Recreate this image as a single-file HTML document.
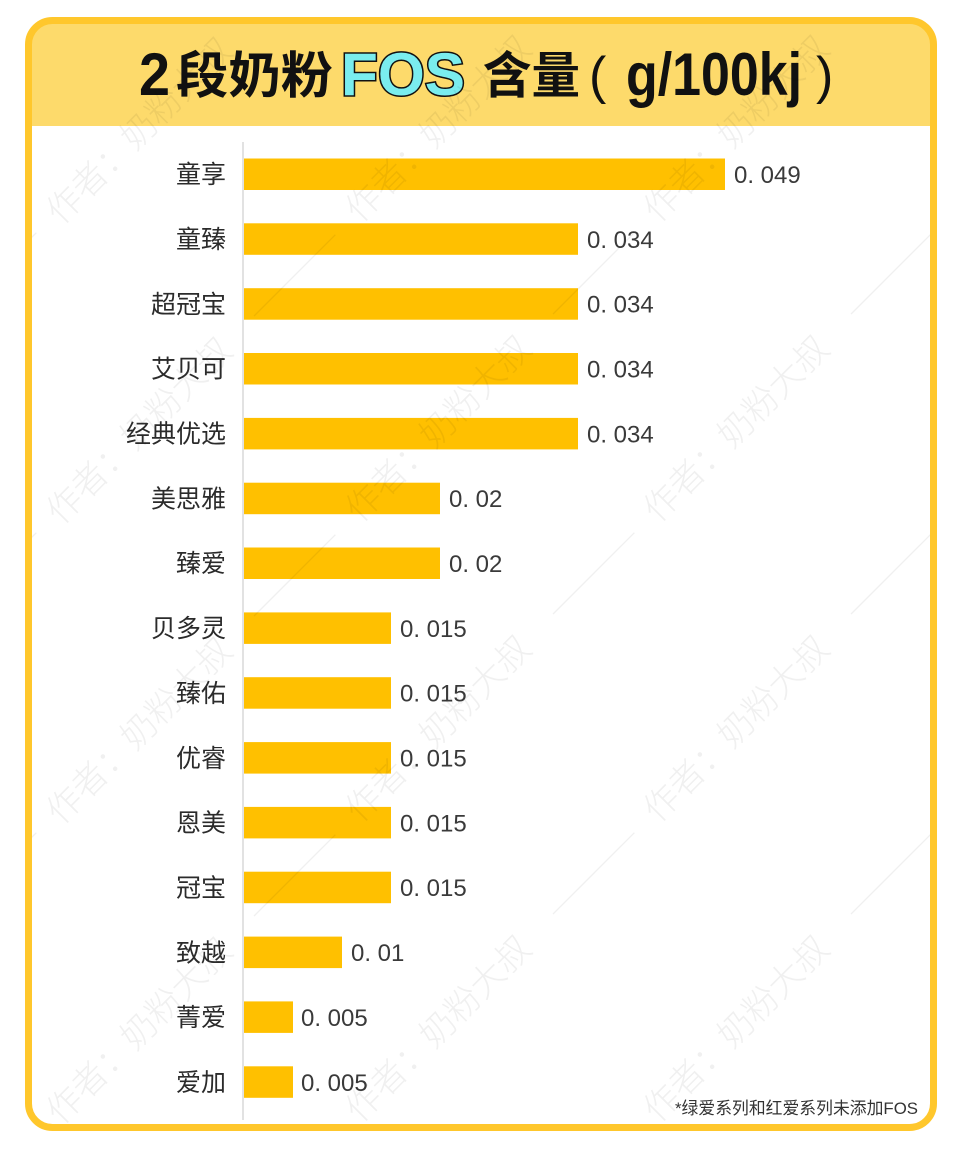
<!DOCTYPE html>
<html>
<head>
<meta charset="utf-8">
<style>
html,body{margin:0;padding:0;background:#fff;}
svg{display:block;}
.cat{font-family:"Liberation Sans","Noto Sans CJK SC",sans-serif;font-size:25px;fill:#2b2b2b;text-anchor:end;}
.val{font-family:"Liberation Sans","Noto Sans CJK SC",sans-serif;font-size:24px;fill:#3a3a3a;}
.wm text{font-family:"Noto Sans CJK SC","WenQuanYi Zen Hei",sans-serif;font-size:35px;font-weight:300;fill:#000;}
.wm line{stroke:#000;stroke-width:1.3;}
</style>
</head>
<body>
<svg width="966" height="1159" viewBox="0 0 966 1159" xmlns="http://www.w3.org/2000/svg">
<defs>
<clipPath id="c"><rect x="28.5" y="20.5" width="905" height="1107" rx="24"/></clipPath>
</defs>
<rect x="0" y="0" width="966" height="1159" fill="#ffffff"/>
<g clip-path="url(#c)">
  <rect x="0" y="0" width="966" height="126" fill="#FDDA6B"/>
  <rect x="0" y="126" width="966" height="1040" fill="#ffffff"/>

  <!-- Title -->
  <text x="139" y="95" font-family="Liberation Sans, sans-serif" font-weight="bold" font-size="60" fill="#111" textLength="31" lengthAdjust="spacingAndGlyphs">2</text>
  <text x="176" y="93" font-family="Noto Sans CJK SC, sans-serif" font-weight="bold" font-size="50" fill="#111" textLength="157" lengthAdjust="spacingAndGlyphs">段奶粉</text>
  <text x="341" y="95" font-family="Liberation Sans, sans-serif" font-weight="bold" font-size="60" fill="#7AEDEE" stroke="#111" stroke-width="3" paint-order="stroke" textLength="124" lengthAdjust="spacingAndGlyphs">FOS</text>
  <text x="483" y="93" font-family="Noto Sans CJK SC, sans-serif" font-weight="bold" font-size="50" fill="#111" textLength="97" lengthAdjust="spacingAndGlyphs">含量</text>
  <text x="589" y="93" font-family="Liberation Sans, sans-serif" font-size="52" fill="#111">(</text>
  <text x="626" y="95" font-family="Liberation Sans, sans-serif" font-weight="bold" font-size="60" fill="#111" textLength="176" lengthAdjust="spacingAndGlyphs">g/100kj</text>
  <text x="816" y="93" font-family="Liberation Sans, sans-serif" font-size="52" fill="#111">)</text>

  <!-- axis -->
  <line x1="243" y1="142" x2="243" y2="1120" stroke="#d9d9d9" stroke-width="1.5"/>

  <!-- bars -->
  <g fill="#FFC000">
    <rect x="244" y="158.5" width="481" height="31.5"/>
    <rect x="244" y="223.3" width="334" height="31.5"/>
    <rect x="244" y="288.2" width="334" height="31.5"/>
    <rect x="244" y="353.0" width="334" height="31.5"/>
    <rect x="244" y="417.9" width="334" height="31.5"/>
    <rect x="244" y="482.7" width="196" height="31.5"/>
    <rect x="244" y="547.5" width="196" height="31.5"/>
    <rect x="244" y="612.4" width="147" height="31.5"/>
    <rect x="244" y="677.2" width="147" height="31.5"/>
    <rect x="244" y="742.1" width="147" height="31.5"/>
    <rect x="244" y="806.9" width="147" height="31.5"/>
    <rect x="244" y="871.7" width="147" height="31.5"/>
    <rect x="244" y="936.6" width="98" height="31.5"/>
    <rect x="244" y="1001.4" width="49" height="31.5"/>
    <rect x="244" y="1066.3" width="49" height="31.5"/>
  </g>

  <!-- category labels -->
  <text class="cat" x="226" y="183.2">童享</text>
  <text class="cat" x="226" y="248.0">童臻</text>
  <text class="cat" x="226" y="312.9">超冠宝</text>
  <text class="cat" x="226" y="377.7">艾贝可</text>
  <text class="cat" x="226" y="442.6">经典优选</text>
  <text class="cat" x="226" y="507.4">美思雅</text>
  <text class="cat" x="226" y="572.2">臻爱</text>
  <text class="cat" x="226" y="637.1">贝多灵</text>
  <text class="cat" x="226" y="701.9">臻佑</text>
  <text class="cat" x="226" y="766.8">优睿</text>
  <text class="cat" x="226" y="831.6">恩美</text>
  <text class="cat" x="226" y="896.4">冠宝</text>
  <text class="cat" x="226" y="961.3">致越</text>
  <text class="cat" x="226" y="1026.1">菁爱</text>
  <text class="cat" x="226" y="1091.0">爱加</text>

  <!-- value labels -->
  <text class="val" x="734" y="183">0. 049</text>
  <text class="val" x="587" y="247.8">0. 034</text>
  <text class="val" x="587" y="312.7">0. 034</text>
  <text class="val" x="587" y="377.5">0. 034</text>
  <text class="val" x="587" y="442.4">0. 034</text>
  <text class="val" x="449" y="507.2">0. 02</text>
  <text class="val" x="449" y="572.0">0. 02</text>
  <text class="val" x="400" y="636.9">0. 015</text>
  <text class="val" x="400" y="701.7">0. 015</text>
  <text class="val" x="400" y="766.6">0. 015</text>
  <text class="val" x="400" y="831.4">0. 015</text>
  <text class="val" x="400" y="896.2">0. 015</text>
  <text class="val" x="351" y="961.1">0. 01</text>
  <text class="val" x="301" y="1025.9">0. 005</text>
  <text class="val" x="301" y="1090.8">0. 005</text>

  <!-- footnote -->
  <text x="675" y="1114" font-family="Liberation Sans, Noto Sans CJK SC, sans-serif" font-size="17" fill="#333" textLength="243" lengthAdjust="spacingAndGlyphs">*绿爱系列和红爱系列未添加FOS</text>

  <!-- watermark -->
  <g class="wm" opacity="0.06">
    <g transform="translate(61,226) rotate(-45)"><text x="0" y="0">作者：奶粉大叔</text><line x1="285" y1="-12" x2="400" y2="-12"/></g>
    <g transform="translate(61,526) rotate(-45)"><text x="0" y="0">作者：奶粉大叔</text><line x1="285" y1="-12" x2="400" y2="-12"/></g>
    <g transform="translate(61,826) rotate(-45)"><text x="0" y="0">作者：奶粉大叔</text><line x1="285" y1="-12" x2="400" y2="-12"/></g>
    <g transform="translate(61,1126) rotate(-45)"><text x="0" y="0">作者：奶粉大叔</text><line x1="285" y1="-12" x2="400" y2="-12"/></g>
    <g transform="translate(360,224) rotate(-45)"><text x="0" y="0">作者：奶粉大叔</text><line x1="285" y1="-12" x2="400" y2="-12"/></g>
    <g transform="translate(360,524) rotate(-45)"><text x="0" y="0">作者：奶粉大叔</text><line x1="285" y1="-12" x2="400" y2="-12"/></g>
    <g transform="translate(360,824) rotate(-45)"><text x="0" y="0">作者：奶粉大叔</text><line x1="285" y1="-12" x2="400" y2="-12"/></g>
    <g transform="translate(360,1124) rotate(-45)"><text x="0" y="0">作者：奶粉大叔</text><line x1="285" y1="-12" x2="400" y2="-12"/></g>
    <g transform="translate(658,224) rotate(-45)"><text x="0" y="0">作者：奶粉大叔</text><line x1="285" y1="-12" x2="400" y2="-12"/></g>
    <g transform="translate(658,524) rotate(-45)"><text x="0" y="0">作者：奶粉大叔</text><line x1="285" y1="-12" x2="400" y2="-12"/></g>
    <g transform="translate(658,824) rotate(-45)"><text x="0" y="0">作者：奶粉大叔</text><line x1="285" y1="-12" x2="400" y2="-12"/></g>
    <g transform="translate(658,1124) rotate(-45)"><text x="0" y="0">作者：奶粉大叔</text><line x1="285" y1="-12" x2="400" y2="-12"/></g>
    <g transform="translate(-238,524) rotate(-45)"><line x1="285" y1="-12" x2="400" y2="-12"/></g>
    <g transform="translate(-238,824) rotate(-45)"><line x1="285" y1="-12" x2="400" y2="-12"/></g>
    <g transform="translate(-238,1124) rotate(-45)"><line x1="285" y1="-12" x2="400" y2="-12"/></g>
  </g>
</g>
<rect x="28.5" y="20.5" width="905" height="1107" rx="24" fill="none" stroke="#FFC72C" stroke-width="7"/>
</svg>
</body>
</html>
